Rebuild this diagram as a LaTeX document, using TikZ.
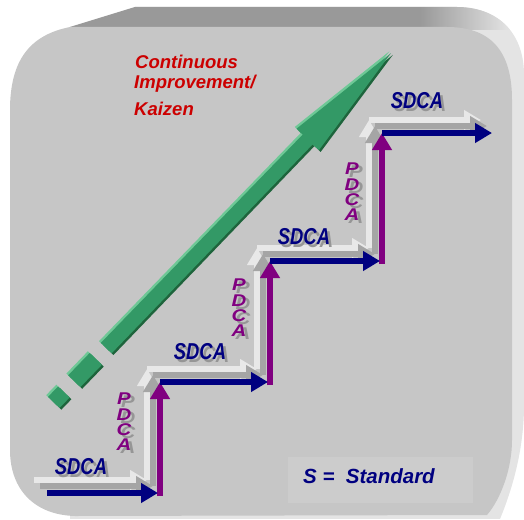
\documentclass[tikz,border=0pt]{standalone}
\usepackage{fontspec}
\setsansfont{Liberation Sans}
\newfontfamily\narrowsans[FakeStretch=0.8]{Liberation Sans}
\newfontfamily\widesans[FakeStretch=1.2]{Liberation Sans}
\usetikzlibrary{arrows.meta}
\definecolor{facegray}{RGB}{198,198,198}
\definecolor{bandgray}{RGB}{153,153,153}
\definecolor{sidegray}{RGB}{228,228,228}
\definecolor{legendgray}{RGB}{204,204,204}
\definecolor{kznavy}{RGB}{0,0,128}
\definecolor{kzpurple}{RGB}{128,0,128}
\definecolor{kzred}{RGB}{204,0,0}
\definecolor{kzgreen}{RGB}{51,153,102}
\definecolor{kzlight}{RGB}{110,200,150}
\definecolor{kzdark}{RGB}{30,100,60}
\definecolor{txtshadow}{RGB}{150,150,150}
\definecolor{stepwhite}{RGB}{232,232,232}
\definecolor{stepgray}{RGB}{165,165,165}
\begin{document}
\begin{tikzpicture}[x=1pt,y=-1pt]
\tikzstyle{stair}=[line width=6pt, -{Triangle[length=17pt,width=19pt]}]
\tikzstyle{sdcatxt}=[inner sep=0, font=\narrowsans\bfseries\itshape\fontsize{23}{23}\selectfont]
\tikzstyle{pdcatxt}=[inner sep=0, align=center, font=\widesans\bfseries\itshape\fontsize{17}{15.3}\selectfont]
\tikzstyle{redtxt}=[inner sep=0, anchor=base west, text=kzred, font=\sffamily\bfseries\itshape\fontsize{18.5}{18.5}\selectfont]
\useasboundingbox (0,0) rectangle (524,519);
% panel, back side
\begin{scope}
\clip (70,27) -- (135,7) -- (457,7) .. controls (495,7) and (524,30) .. (524,75) -- (524,405) .. controls (524,450) and (512,490) .. (500,519) -- (70,519) -- cycle;
\fill[sidegray] (0,0) rectangle (524,519);
\fill[bandgray] (60,0) rectangle (420,30);
\shade[left color=bandgray, right color=sidegray] (420,0) rectangle (510,30);
\end{scope}
% panel, front
\fill[facegray] (70,27) -- (447,27) .. controls (490,27) and (512,50) .. (512,100) -- (512,440) .. controls (512,470) and (500,500) .. (487,515) -- (75,516) .. controls (35,515) and (10,490) .. (10,450) -- (10,110) .. controls (10,60) and (30,35) .. (70,27) -- cycle;
% legend box
\fill[legendgray] (288,457) rectangle (473,503);
% green arrow
\begin{scope}[shift={(59,397)}, rotate=46]
\foreach \t/\c in {2.5/kzdark, -2.5/kzlight, 0/kzgreen}
  \fill[\c, shift={(0,\t)}] (-7.5,-8) rectangle (7,8) (22,-8.5) rectangle (53,8.5)
    (68,-7.5) -- (358,-7) -- (358,-15.5) -- (478,0) -- (358,15.5) -- (358,7) -- (68,7.5) -- cycle;
\end{scope}
% stairs
\coordinate (k0) at (47,493);
\coordinate (k1) at (160,493);
\coordinate (k2) at (160,382);
\coordinate (k3) at (270,382);
\coordinate (k4) at (270,261);
\coordinate (k5) at (382,261);
\coordinate (k6) at (382,133);
\coordinate (k7) at (494,133);
\foreach \d/\c in {13/stepwhite, 7/stepgray}
  \foreach \a/\b in {k0/k1, k1/k2, k2/k3, k3/k4, k4/k5, k5/k6, k6/k7}
    \draw[stair, \c] ([shift={(-\d,-\d)}]\a) -- ([shift={(-\d,-\d)}]\b);
\foreach \a/\b in {k1/k2, k3/k4, k5/k6}
  \draw[stair, kzpurple, shorten <=-3pt] (\a) -- (\b);
\foreach \a/\b in {k0/k1, k2/k3, k4/k5, k6/k7}
  \draw[stair, kznavy, shorten >=2pt] (\a) -- (\b);
% labels
\node[sdcatxt, text=txtshadow] (sdca1s) at (84,470) {SDCA};
\node[sdcatxt, text=kznavy] (sdca1) at (81,467) {SDCA};
\node[sdcatxt, text=txtshadow] (sdca2s) at (203,355) {SDCA};
\node[sdcatxt, text=kznavy] (sdca2) at (200,352) {SDCA};
\node[sdcatxt, text=txtshadow] (sdca3s) at (307,240) {SDCA};
\node[sdcatxt, text=kznavy] (sdca3) at (304,237) {SDCA};
\node[sdcatxt, text=txtshadow] (sdca4s) at (420,104) {SDCA};
\node[sdcatxt, text=kznavy] (sdca4) at (417,101) {SDCA};
\node[pdcatxt, text=txtshadow] (pdca1s) at (128,425) {P\\D\\C\\A};
\node[pdcatxt, text=kzpurple] (pdca1) at (124,422) {P\\D\\C\\A};
\node[pdcatxt, text=txtshadow] (pdca2s) at (243,311) {P\\D\\C\\A};
\node[pdcatxt, text=kzpurple] (pdca2) at (239,308) {P\\D\\C\\A};
\node[pdcatxt, text=txtshadow] (pdca3s) at (356,195) {P\\D\\C\\A};
\node[pdcatxt, text=kzpurple] (pdca3) at (352,192) {P\\D\\C\\A};
\node[redtxt] (title1) at (135,68) {Continuous};
\node[redtxt] (title2) at (134,88) {Improvement/};
\node[redtxt] (title3) at (134,115) {Kaizen};
\node[inner sep=0, anchor=base west, text=kznavy, font=\sffamily\bfseries\itshape\fontsize{20.5}{20.5}\selectfont] (legend) at (303,483) {S =\ \ Standard};
\end{tikzpicture}
\end{document}
